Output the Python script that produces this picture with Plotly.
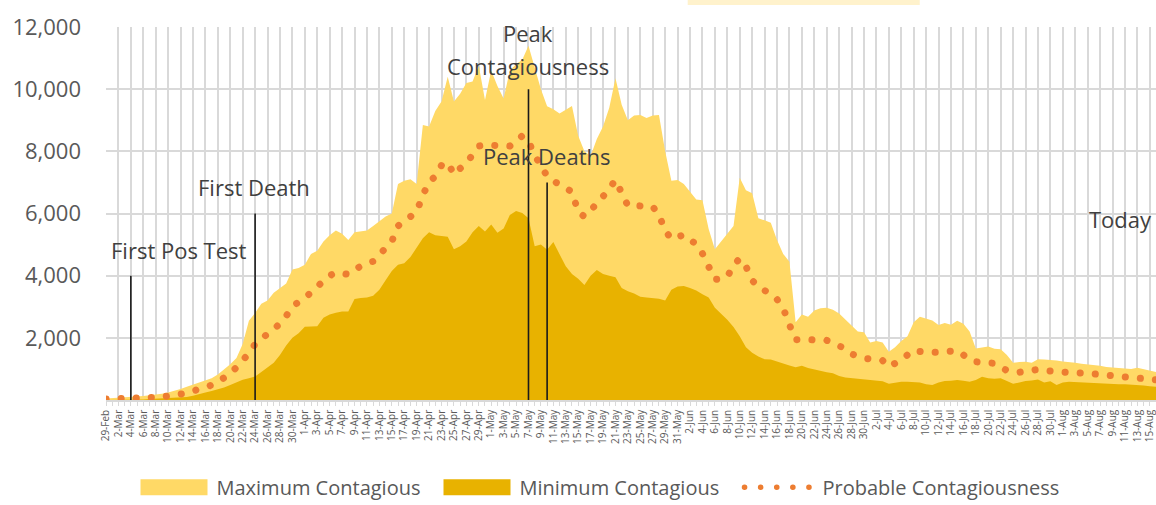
import pandas as pd
import plotly.graph_objects as go

START_DATE = "2020-02-29"

max_contagious = [
    50, 60, 70, 80, 100, 110, 130, 150, 170, 200,
    240, 290, 350, 430, 500, 560, 620, 700, 820, 980,
    1150, 1350, 1800, 2550, 2800, 3100, 3200, 3450, 3600, 3750,
    4200, 4250, 4350, 4700, 4800, 5100, 5300, 5450, 5350, 5150,
    5400, 5420, 5450, 5600, 5750, 5900, 6000, 6950, 7050, 7100,
    6950, 8850, 8800, 9300, 9600, 10400, 9600, 9850, 10200, 10250,
    10750, 9650, 10600, 10100, 9700, 10600, 10800, 10950, 11400, 10700,
    10000, 9450, 9350, 9220, 9350, 9460, 8500, 8000, 7850, 8400,
    8800, 9400, 10350, 9500, 9000, 9150, 9170, 9070, 9150, 9170,
    8000, 7050, 7080, 6950, 6700, 6450, 6430, 5500, 4850, 5100,
    5350, 5600, 7150, 6750, 6650, 5850, 5780, 5700, 5150, 4700,
    4450, 2500, 2750, 2680, 2880, 2950, 2970, 2900, 2780, 2600,
    2400, 2200, 2180, 1850, 1900, 1850, 1550, 1700, 1900, 2050,
    2500, 2680, 2620, 2560, 2410, 2480, 2420, 2550, 2450, 2200,
    1660, 1680, 1720, 1650, 1630, 1450, 1200, 1220, 1230, 1200,
    1310, 1300, 1290, 1270, 1240, 1230, 1200, 1170, 1150, 1130,
    1100, 1060, 1040, 1030, 1020, 1000, 1040, 990, 940, 900,
]

min_contagious = [
    0, 0, 0, 5, 10, 15, 20, 30, 40, 50,
    60, 75, 90, 100, 140, 180, 240, 290, 340, 400,
    480, 560, 650, 700, 760, 900, 1050, 1200, 1450, 1750,
    2000, 2150, 2360, 2360, 2370, 2650, 2750, 2810, 2850, 2850,
    3250, 3280, 3300, 3350, 3550, 3850, 4150, 4350, 4400, 4600,
    4900, 5200, 5400, 5300, 5280, 5250, 4850, 4950, 5100, 5400,
    5600, 5420, 5650, 5380, 5520, 5950, 6080, 6020, 5850, 4950,
    5000, 4830, 5080, 4700, 4300, 4050, 3900, 3700, 4000, 4180,
    4050, 4000, 3950, 3600, 3500, 3430, 3320, 3300, 3270, 3260,
    3200, 3550, 3650, 3670, 3600, 3520, 3400, 3300, 2970, 2780,
    2580, 2350, 2050, 1700, 1520, 1400, 1310, 1300, 1230, 1170,
    1110, 1050, 1100, 1030, 980, 920, 890, 860, 770, 720,
    700, 680, 670, 660, 640, 600, 520, 560, 590, 590,
    580, 560, 510, 480, 560, 610, 620, 640, 620, 590,
    640, 750, 700, 680, 700, 600, 520, 560, 610, 630,
    660, 560, 600, 480, 560, 590, 580, 570, 560, 540,
    520, 510, 520, 510, 510, 500, 480, 470, 440, 430,
]

probable = [
    30, 30, 30, 30, 30, 40, 50, 70, 85, 100,
    130, 150, 170, 220, 290, 340, 400, 480, 580, 700,
    850, 1050, 1250, 1500, 1800, 1950, 2100, 2250, 2450, 2700,
    3010, 3150, 3280, 3450, 3650, 3850, 4000, 4100, 4080, 4040,
    4200, 4320, 4400, 4460, 4650, 4850, 5100, 5600, 5750, 5880,
    6050, 6600, 7000, 7200, 7550, 7650, 7250, 7450, 7600, 7900,
    8170, 8200, 8200, 8180, 8170, 8170, 8300, 8500, 8330, 7860,
    7560, 7190, 7050, 6950, 6850, 6700, 6050, 5900, 6100, 6370,
    6550, 6800, 7080, 6660, 6250, 6250, 6260, 6240, 6220, 5950,
    5450, 5180, 5250, 5310, 5150, 5020, 4710, 4260, 3880, 3900,
    3960, 4340, 4550, 4300, 3850, 3650, 3550, 3400, 3240, 2950,
    2420, 1940, 1950, 1940, 1930, 1930, 1920, 1830, 1750, 1650,
    1480, 1400, 1340, 1320, 1290, 1270, 1070, 1150, 1290, 1450,
    1610, 1560, 1520, 1530, 1540, 1540, 1560, 1590, 1450, 1290,
    1230, 1200, 1190, 1180, 1050, 950, 920, 890, 930, 960,
    980, 950, 920, 900, 890, 885, 880, 880, 860, 840,
    820, 800, 790, 780, 770, 760, 750, 730, 680, 650,
]

dates = pd.date_range(START_DATE, periods=len(max_contagious), freq="D")
x_tick_vals = list(dates[::2])
x_tick_text = [f"{d.day}-{d.strftime('%b')}" for d in x_tick_vals]

event_labels = ["First Pos Test", "First Death", "Peak Contagiousness", "Peak Deaths"]
event_dates = ["2020-03-04", "2020-03-24", "2020-05-07", "2020-05-10"]
event_heights = [4000, 6000, 10000, 7000]

y_tick_vals = [0, 2000, 4000, 6000, 8000, 10000, 12000]
y_tick_text = ["", "2,000", "4,000", "6,000", "8,000", "10,000", "12,000"]

FONT = "Open Sans, Noto Sans, sans-serif"
GRID = "#d9d9d9"

fig = go.Figure()
fig.add_trace(go.Scatter(
    x=dates, y=max_contagious, name="Maximum Contagious", mode="lines",
    fill="tozeroy", fillcolor="#FFD966", line=dict(width=0, color="#FFD966"),
    hoverinfo="skip",
))
fig.add_trace(go.Scatter(
    x=dates, y=min_contagious, name="Minimum Contagious", mode="lines",
    fill="tozeroy", fillcolor="#E8B200", line=dict(width=0, color="#E8B200"),
    hoverinfo="skip",
))
fig.add_trace(go.Scatter(
    x=dates, y=probable, name="Probable Contagiousness", mode="lines",
    line=dict(width=7, color="#ED7D31", dash="dot"), uid="probable",
    hoverinfo="skip",
))

# event marker lines
for d, h in zip(event_dates, event_heights):
    fig.add_shape(type="line", xref="x", yref="y", x0=d, x1=d, y0=0, y1=h,
                  line=dict(color="#1a1a1a", width=1.6), layer="above")

ann_font = dict(family=FONT, size=22, color="#404040")
fig.add_annotation(x=event_dates[0], y=event_heights[0], text=event_labels[0],
                   showarrow=False, xanchor="center", yanchor="middle",
                   xshift=48, yshift=26, font=ann_font)
fig.add_annotation(x=event_dates[1], y=event_heights[1], text=event_labels[1],
                   showarrow=False, xanchor="center", yanchor="middle",
                   xshift=-1, yshift=27, font=ann_font)
fig.add_annotation(x=event_dates[2], y=event_heights[2], text="Peak",
                   showarrow=False, xanchor="center", yanchor="middle",
                   xshift=0, yshift=56, font=ann_font)
fig.add_annotation(x=event_dates[2], y=event_heights[2], text="Contagiousness",
                   showarrow=False, xanchor="center", yanchor="middle",
                   xshift=0, yshift=23, font=ann_font)
fig.add_annotation(x=event_dates[3], y=event_heights[3], text=event_labels[3],
                   showarrow=False, xanchor="center", yanchor="middle",
                   xshift=-1, yshift=26, font=ann_font)
fig.add_annotation(x=dates[-1], y=5000, text="Today",
                   showarrow=False, xanchor="right", yanchor="middle",
                   xshift=-2, yshift=26, font=ann_font)

# faint title box remnant at top
fig.add_shape(type="rect", xref="paper", yref="paper", x0=0.554, x1=0.775,
              y0=1.059, y1=1.075, fillcolor="#FFF2CC", line=dict(width=0))

fig.update_layout(
    width=1156, height=505, autosize=False,
    margin=dict(l=106, r=0, t=27, b=105, autoexpand=False),
    paper_bgcolor="white", plot_bgcolor="white",
    font=dict(family=FONT, color="#595959"),
    showlegend=True,
    legend=dict(orientation="h", x=0.5, xanchor="center", y=-0.234, yanchor="middle",
                font=dict(family=FONT, size=20, color="#595959"),
                entrywidth=258, entrywidthmode="pixels", bgcolor="rgba(0,0,0,0)"),
    xaxis=dict(
        type="date", range=[dates[0], dates[-1]], automargin=False,
        tickmode="array", tickvals=x_tick_vals, ticktext=x_tick_text, tickangle=-90,
        ticklabeloverflow="allow",
        tickfont=dict(family=FONT, size=10, color="#595959"),
        showgrid=True, gridcolor=GRID, gridwidth=1.5,
        ticks="outside", ticklen=4, tickcolor=GRID, tickwidth=1,
        minor=dict(tickmode="linear", dtick=86400000, tick0=dates[0], ticks="outside",
                   ticklen=4, tickcolor=GRID, tickwidth=1, showgrid=False),
        showline=True, linecolor=GRID, linewidth=1.5,
        zeroline=False, fixedrange=True,
    ),
    yaxis=dict(
        range=[0, 12000], tickvals=y_tick_vals, ticktext=y_tick_text, automargin=False,
        tickfont=dict(family=FONT, size=22, color="#595959"),
        showgrid=True, gridcolor=GRID, gridwidth=1.5,
        zeroline=False, showline=False, ticks="", ticklabelstandoff=24,
        fixedrange=True,
    ),
)

post_js = """
(function(){
  document.body.style.margin = '0';
  document.body.style.padding = '0';
  document.body.style.overflow = 'hidden';
  var gd = document.getElementById('{plot_id}');
  function styl(){
    var trs = gd.querySelectorAll('.scatterlayer .trace');
    if (trs[2]) trs[2].querySelectorAll('path.js-line').forEach(function(p){
      p.style.strokeLinecap = 'round';
      p.style.strokeDasharray = '0.1px 15px';
    });
    gd.querySelectorAll('.legend .scrollbox').forEach(function(s){
      s.removeAttribute('clip-path');
    });
    var leg = gd.querySelectorAll('.legend .traces');
    if (leg[2]) leg[2].querySelectorAll('path.js-line').forEach(function(p){
      p.setAttribute('d', 'M-38,0h66');
      p.style.strokeLinecap = 'round';
      p.style.strokeDasharray = '0.1px 16px';
      p.style.strokeWidth = '5.5px';
    });
    for (var i = 0; i < 2; i++) {
      if (leg[i]) leg[i].querySelectorAll('path.js-fill').forEach(function(p){
        p.setAttribute('d', 'M-36,-8h67v16h-67z');
      });
    }
  }
  styl();
  gd.on('plotly_afterplot', styl);
})();
"""

fig.write_html("out.html", post_script=post_js, config={"displayModeBar": False})
